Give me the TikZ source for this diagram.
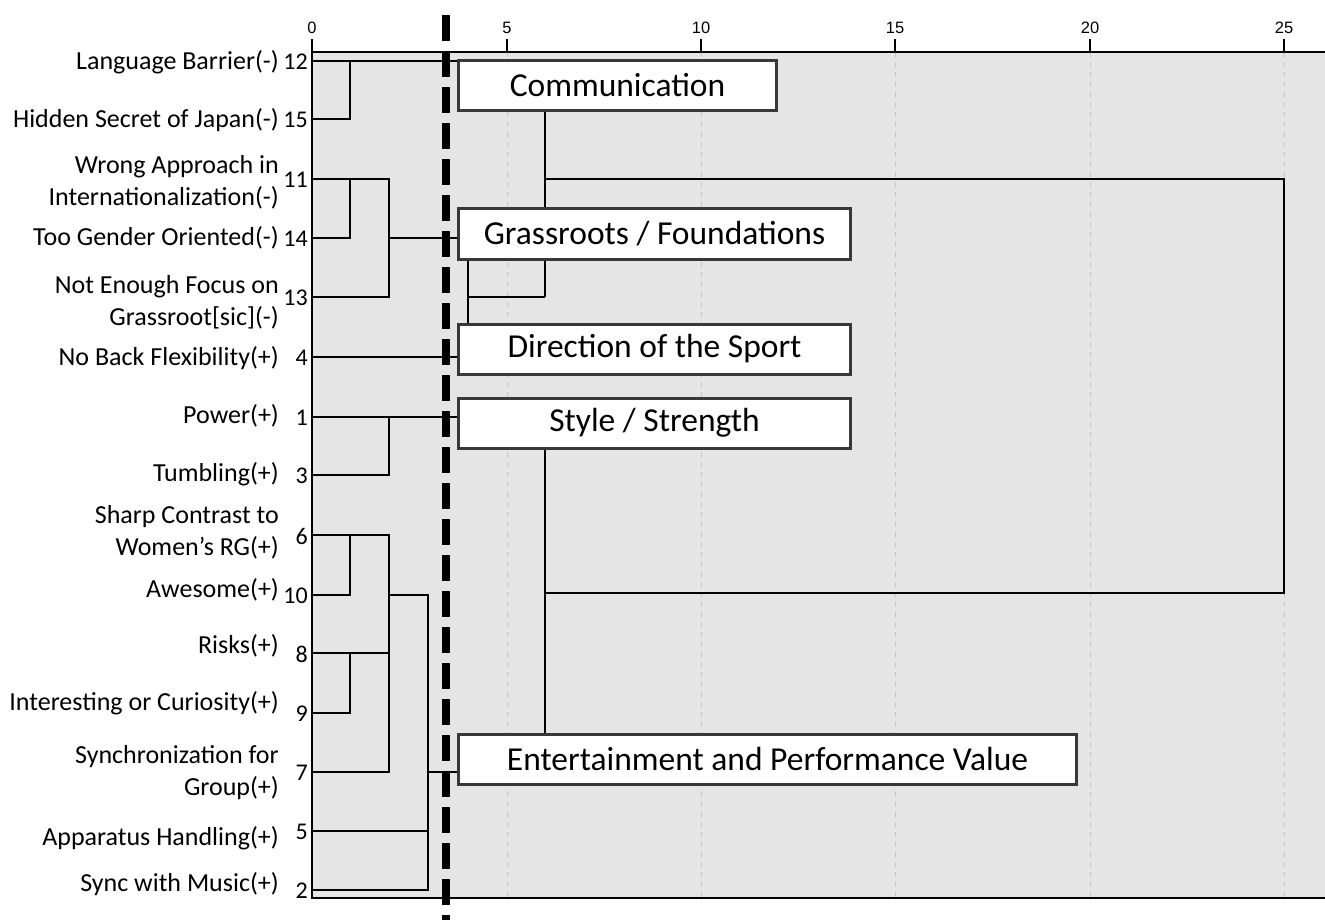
\documentclass[tikz,border=0pt]{standalone}
\usepackage{fontspec}
\setmainfont{Carlito}
\newfontfamily\tickfont{Liberation Sans}
\begin{document}
\begin{tikzpicture}[x=1pt,y=-1pt,
  lbl/.style={anchor=east,align=right,inner sep=0pt,font=\fontsize{26}{32}\selectfont},
  num/.style={anchor=east,inner sep=0pt,font=\fontsize{24}{26}\selectfont},
  tick/.style={anchor=south,inner sep=0pt,font=\tickfont\fontsize{16.5}{18}\selectfont},
  dend/.style={line width=2pt,black},
  grid/.style={line width=1pt,color=black!22,dash pattern=on 5pt off 5pt},
  cluster/.style={draw=black!78,line width=3pt,fill=white,inner sep=0pt,
    font=\fontsize{33.5}{36}\selectfont,minimum height=50pt},
  cut/.style={line width=8pt,black,dash pattern=on 26pt off 10pt}]
\useasboundingbox (0,0) rectangle (1325,920);
\clip (0,0) rectangle (1325,920);
% plot area
\fill[black!10] (312,52) rectangle (1340,898);
\foreach \v/\x in {5/507,10/701,15/895,20/1090,25/1284}{
  \draw[grid] (\x,52) -- (\x,898);
}
\draw[line width=1.6pt] (1340,52) -- (312,52) -- (312,898) -- (1340,898);
\foreach \v/\x in {0/312,5/507,10/701,15/895,20/1090,25/1284}{
  \draw[line width=1.6pt] (\x,39) -- (\x,52);
  \node[tick] (t\v) at (\x,34) {\v};
}
% leaf coordinates
\foreach \n/\y in {12/61,15/119,11/179,14/238,13/297,4/357,1/417,3/475,6/535,10/595,8/653,9/713,7/772,5/831,2/890}{
  \coordinate (l\n) at (312,\y);
  \node[num] (n\n) at (308,\y+1) {\n};
}
% labels
\node[lbl] (a12) at (279,62) {Language Barrier(-)};
\node[lbl] (a15) at (279,120) {Hidden Secret of Japan(-)};
\node[lbl] (a11) at (279,182) {Wrong Approach in\\Internationalization(-)};
\node[lbl] (a14) at (279,238) {Too Gender Oriented(-)};
\node[lbl] (a13) at (279,302) {Not Enough Focus on\\Grassroot[sic](-)};
\node[lbl] (a4) at (279,358) {No Back Flexibility(+)};
\node[lbl] (a1) at (279,416) {Power(+)};
\node[lbl] (a3) at (279,474) {Tumbling(+)};
\node[lbl] (a6) at (279,532) {Sharp Contrast to\\Women’s RG(+)};
\node[lbl] (a10) at (279,590) {Awesome(+)};
\node[lbl] (a8) at (279,646) {Risks(+)};
\node[lbl] (a9) at (279,703) {Interesting or Curiosity(+)};
\node[lbl] (a7) at (279,773) {Synchronization for\\Group(+)};
\node[lbl] (a5) at (279,838) {Apparatus Handling(+)};
\node[lbl] (a2) at (279,884) {Sync with Music(+)};
% merge coordinates
\coordinate (m1215) at (350,61);
\coordinate (m1114) at (350,179);
\coordinate (m1113) at (389,179);
\coordinate (m13) at (389,417);
\coordinate (m610) at (350,535);
\coordinate (m89) at (350,653);
\coordinate (mgrp) at (389,535);
\coordinate (mgrp2) at (389,595);
\coordinate (mall) at (428,595);
\coordinate (mgd) at (468,297);
\coordinate (mcg) at (545,297);
\coordinate (top) at (1284,179);
\coordinate (bot) at (1284,593);
% cut line
\draw[cut] (446,15) -- (446,930);
% cluster boxes
\node[cluster,minimum width=318pt] (comm) at (617.5,85.5) {Communication};
\node[cluster,minimum width=392pt] (grass) at (654.5,234) {Grassroots / Foundations};
\node[cluster,minimum width=392pt] (dir) at (654.5,349) {Direction of the Sport};
\node[cluster,minimum width=392pt] (style) at (654.5,423) {Style / Strength};
\node[cluster,minimum width=618pt] (ent) at (767.5,759) {Entertainment and Performance Value};
% dendrogram: communication
\draw[dend] (l12) -- (comm.west |- l12);
\draw[dend] (l15) -| (m1215);
% grassroots
\draw[dend] (l11) -- (m1113) -- (m1113 |- l13) -- (l13);
\draw[dend] (l14) -| (m1114);
\draw[dend] (m1113 |- l14) -- (grass.west |- l14);
% direction
\draw[dend] (l4) -- (dir.west |- l4);
% style
\draw[dend] (l1) -- (style.west |- l1);
\draw[dend] (l3) -| (m13);
% entertainment
\draw[dend] (l6) -- (mgrp) -- (mgrp |- l7) -- (l7);
\draw[dend] (l10) -| (m610);
\draw[dend] (l8) -- (mgrp |- l8);
\draw[dend] (l9) -| (m89);
\draw[dend] (mgrp2) -- (mall) -- (mall |- l2) -- (l2);
\draw[dend] (l5) -- (mall |- l5);
\draw[dend] (mall |- l7) -- (ent.west |- l7);
% higher merges
\draw[dend] (grass.south -| mgd) -- (mgd) -- (mcg);
\draw[dend] (mgd) -- (dir.north -| mgd);
\draw[dend] (comm.south -| mcg) -- (grass.north -| mcg);
\draw[dend] (grass.south -| mcg) -- (mcg);
\draw[dend] (mcg |- top) -- (top) -- (bot) -- (mcg |- bot);
\draw[dend] (style.south -| mcg) -- (ent.north -| mcg);
\end{tikzpicture}
\end{document}
